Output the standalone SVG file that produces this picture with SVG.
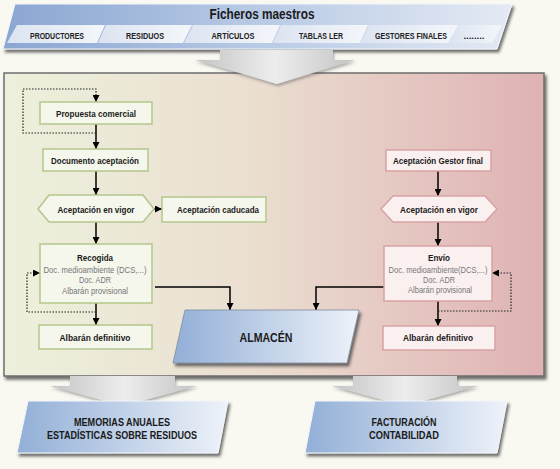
<svg xmlns="http://www.w3.org/2000/svg" width="560" height="469" viewBox="0 0 560 469">
<defs>
<linearGradient id="bannerG" x1="0" y1="0" x2="1" y2="0"><stop offset="0" stop-color="#8aa6d2"/><stop offset="0.5" stop-color="#b8cae5"/><stop offset="1" stop-color="#e4eaf4"/></linearGradient>
<linearGradient id="tabG" x1="0" y1="0" x2="1" y2="0"><stop offset="0" stop-color="#dbe4f1"/><stop offset="1" stop-color="#f4f6fa"/></linearGradient>
<linearGradient id="mainG" x1="0" y1="0" x2="1" y2="0"><stop offset="0" stop-color="#edf0dc"/><stop offset="0.45" stop-color="#ebdfd1"/><stop offset="1" stop-color="#dfb2b4"/></linearGradient>
<linearGradient id="blueG" x1="0" y1="0" x2="1" y2="0"><stop offset="0" stop-color="#92afd7"/><stop offset="1" stop-color="#eef2f9"/></linearGradient>
<linearGradient id="arrG" x1="0" y1="0" x2="1" y2="0"><stop offset="0" stop-color="#c4c4c4"/><stop offset="0.5" stop-color="#ededed"/><stop offset="1" stop-color="#c4c4c4"/></linearGradient>
<filter id="sh" x="-10%" y="-10%" width="130%" height="140%"><feDropShadow dx="2" dy="3" stdDeviation="1.5" flood-color="#333" flood-opacity="0.7"/></filter>
<filter id="sh2" x="-10%" y="-10%" width="130%" height="140%"><feDropShadow dx="1" dy="2" stdDeviation="1.5" flood-color="#555" flood-opacity="0.5"/></filter>
<marker id="ah" viewBox="0 0 8 8" refX="8" refY="4" markerWidth="7" markerHeight="7" orient="auto" markerUnits="userSpaceOnUse"><path d="M0,0 L8,4 L0,8 z" fill="#000"/></marker>
<style>
text{font-family:"Liberation Sans",Arial,sans-serif;font-weight:bold;fill:#1a1a1a;text-anchor:middle}
.tab{font-size:8.5px;fill:#222}
.n{font-size:9.5px}
.gr{font-weight:normal;fill:#777;font-size:9.5px}
.big{font-size:10.5px}
.gn{fill:#f5f6ec;stroke:#b2c78b;stroke-width:1.5}
.pk{fill:#fbf0f0;stroke:#d9a2a5;stroke-width:1.5}
.c{fill:none;stroke:#000;stroke-width:1.5}
.d{fill:none;stroke:#222;stroke-width:1.2;stroke-dasharray:1.5 1.5}
</style>
</defs>
<rect width="560" height="469" fill="#f9f8f1"/>

<g id="ficheros">
<polygon points="15,4 512,4 497,49 3,49" fill="url(#bannerG)" stroke="#f4f6fa" stroke-width="1" filter="url(#sh)"/>
<text x="262" y="19" font-size="14.5" textLength="105" lengthAdjust="spacingAndGlyphs">Ficheros maestros</text>
<polygon points="17,25 105,25 97,43 7,43" fill="url(#tabG)"/>
<polygon points="106,25 192,25 183,43 98,43" fill="url(#tabG)"/>
<polygon points="193,25 280,25 272,43 184,43" fill="url(#tabG)"/>
<polygon points="281,25 368,25 360,43 273,43" fill="url(#tabG)"/>
<polygon points="369,25 458,25 448,43 361,43" fill="url(#tabG)"/>
<polygon points="459,25 502,25 492,43 449,43" fill="url(#tabG)"/>
<text class="tab" x="57" y="39" textLength="54" lengthAdjust="spacingAndGlyphs">PRODUCTORES</text>
<text class="tab" x="145" y="39" textLength="38" lengthAdjust="spacingAndGlyphs">RESIDUOS</text>
<text class="tab" x="233" y="39" textLength="43" lengthAdjust="spacingAndGlyphs">ARTÍCULOS</text>
<text class="tab" x="321" y="39" textLength="44" lengthAdjust="spacingAndGlyphs">TABLAS LER</text>
<text class="tab" x="411" y="39" textLength="72" lengthAdjust="spacingAndGlyphs">GESTORES FINALES</text>
<text class="tab" x="474" y="39" textLength="21" lengthAdjust="spacingAndGlyphs">........</text>
</g>

<g id="almacen-area">
<rect x="4" y="73" width="540" height="303" fill="url(#mainG)" stroke="#6e6e6e" stroke-width="1.5" filter="url(#sh)"/>
</g>

<polygon id="arrow-top" points="220,50 333,50 333,60 355,60 277,84 195,60 220,60" fill="url(#arrG)" filter="url(#sh2)"/>

<g id="connectors">
<path class="c" d="M96,124 V149" marker-end="url(#ah)"/>
<path class="c" d="M96,171 V195" marker-end="url(#ah)"/>
<path class="c" d="M154,209 H162" marker-end="url(#ah)"/>
<path class="c" d="M96,222 V244" marker-end="url(#ah)"/>
<path class="c" d="M96,303 V325" marker-end="url(#ah)"/>
<path class="c" d="M155,287 H230 V310" marker-end="url(#ah)"/>
<path class="c" d="M438,171 V196" marker-end="url(#ah)"/>
<path class="c" d="M438,222 V246" marker-end="url(#ah)"/>
<path class="c" d="M438,301 V326" marker-end="url(#ah)"/>
<path class="c" d="M384,287 H316 V310" marker-end="url(#ah)"/>
<path class="d" d="M96,133 H23 V89 H96 V102" marker-end="url(#ah)"/>
<path class="d" d="M96,312 H27 V273 H40" marker-end="url(#ah)"/>
<path class="d" d="M438,311 H511 V273 H492" marker-end="url(#ah)"/>
</g>

<g id="propuesta"><rect class="gn" x="40" y="102" width="112" height="22"/><text class="n" x="96" y="116.5" textLength="80" lengthAdjust="spacingAndGlyphs">Propuesta comercial</text></g>
<g id="documento"><rect class="gn" x="43" y="149" width="105" height="22"/><text class="n" x="95" y="164" textLength="88" lengthAdjust="spacingAndGlyphs">Documento aceptación</text></g>
<g id="vigor-izq"><polygon class="gn" points="38,209 49,195 143,195 154,209 143,222 49,222"/><text class="n" x="96" y="212.5" textLength="77" lengthAdjust="spacingAndGlyphs">Aceptación en vigor</text></g>
<g id="caducada"><rect class="gn" x="162" y="197" width="104" height="25"/><text class="n" x="218" y="213" textLength="82" lengthAdjust="spacingAndGlyphs">Aceptación caducada</text></g>
<g id="recogida"><rect class="gn" x="40" y="244" width="112" height="59"/>
<text class="n" x="95" y="260.5" textLength="36" lengthAdjust="spacingAndGlyphs">Recogida</text>
<text class="gr" x="95" y="272.5" textLength="103" lengthAdjust="spacingAndGlyphs">Doc. medioambiente (DCS,...)</text>
<text class="gr" x="95" y="283" textLength="32" lengthAdjust="spacingAndGlyphs">Doc. ADR</text>
<text class="gr" x="95" y="293.5" textLength="66" lengthAdjust="spacingAndGlyphs">Albarán provisional</text></g>
<g id="albaran-izq"><rect class="gn" x="39" y="325" width="113" height="24"/><text class="n" x="95" y="341" textLength="71" lengthAdjust="spacingAndGlyphs">Albarán definitivo</text></g>

<g id="gestor"><rect class="pk" x="386" y="150" width="105" height="21"/><text class="n" x="438" y="164" textLength="90" lengthAdjust="spacingAndGlyphs">Aceptación Gestor final</text></g>
<g id="vigor-der"><polygon class="pk" points="381,209 393,196 485,196 497,209 485,222 393,222"/><text class="n" x="439" y="212.5" textLength="78" lengthAdjust="spacingAndGlyphs">Aceptación en vigor</text></g>
<g id="envio"><rect class="pk" x="384" y="246" width="108" height="55"/>
<text class="n" x="439" y="260.5" textLength="22" lengthAdjust="spacingAndGlyphs">Envío</text>
<text class="gr" x="438" y="272.5" textLength="99" lengthAdjust="spacingAndGlyphs">Doc. medioambiente(DCS,...)</text>
<text class="gr" x="439" y="283" textLength="32" lengthAdjust="spacingAndGlyphs">Doc. ADR</text>
<text class="gr" x="440" y="293" textLength="64" lengthAdjust="spacingAndGlyphs">Albarán provisional</text></g>
<g id="albaran-der"><rect class="pk" x="383" y="326" width="112" height="24"/><text class="n" x="438" y="341" textLength="70" lengthAdjust="spacingAndGlyphs">Albarán definitivo</text></g>

<g id="almacen"><polygon points="185,310 359,310 347,363 173,363" fill="url(#blueG)" stroke="#7d8ca0" stroke-width="0.8" filter="url(#sh)"/><text x="266" y="342" font-size="13" textLength="53" lengthAdjust="spacingAndGlyphs">ALMACÉN</text></g>

<polygon id="arrow-left" points="70,376 175,376 175,386 197,386 123,406 50,386 70,386" fill="url(#arrG)" filter="url(#sh2)"/>
<polygon id="arrow-right" points="353,376 457,376 457,386 478,386 405,406 332,386 353,386" fill="url(#arrG)" filter="url(#sh2)"/>

<g id="memorias"><polygon points="28,401 228,401 218,453 17,453" fill="url(#blueG)" stroke="#f4f6fa" stroke-width="1" filter="url(#sh)"/>
<text class="big" x="122" y="425.5" textLength="96" lengthAdjust="spacingAndGlyphs">MEMORIAS ANUALES</text>
<text class="big" x="122" y="438.5" textLength="150" lengthAdjust="spacingAndGlyphs">ESTADÍSTICAS SOBRE RESIDUOS</text></g>
<g id="facturacion"><polygon points="315,401 507,401 497,453 305,453" fill="url(#blueG)" stroke="#f4f6fa" stroke-width="1" filter="url(#sh)"/>
<text class="big" x="404" y="425.5" textLength="65" lengthAdjust="spacingAndGlyphs">FACTURACIÓN</text>
<text class="big" x="404" y="438.5" textLength="70" lengthAdjust="spacingAndGlyphs">CONTABILIDAD</text></g>
</svg>
